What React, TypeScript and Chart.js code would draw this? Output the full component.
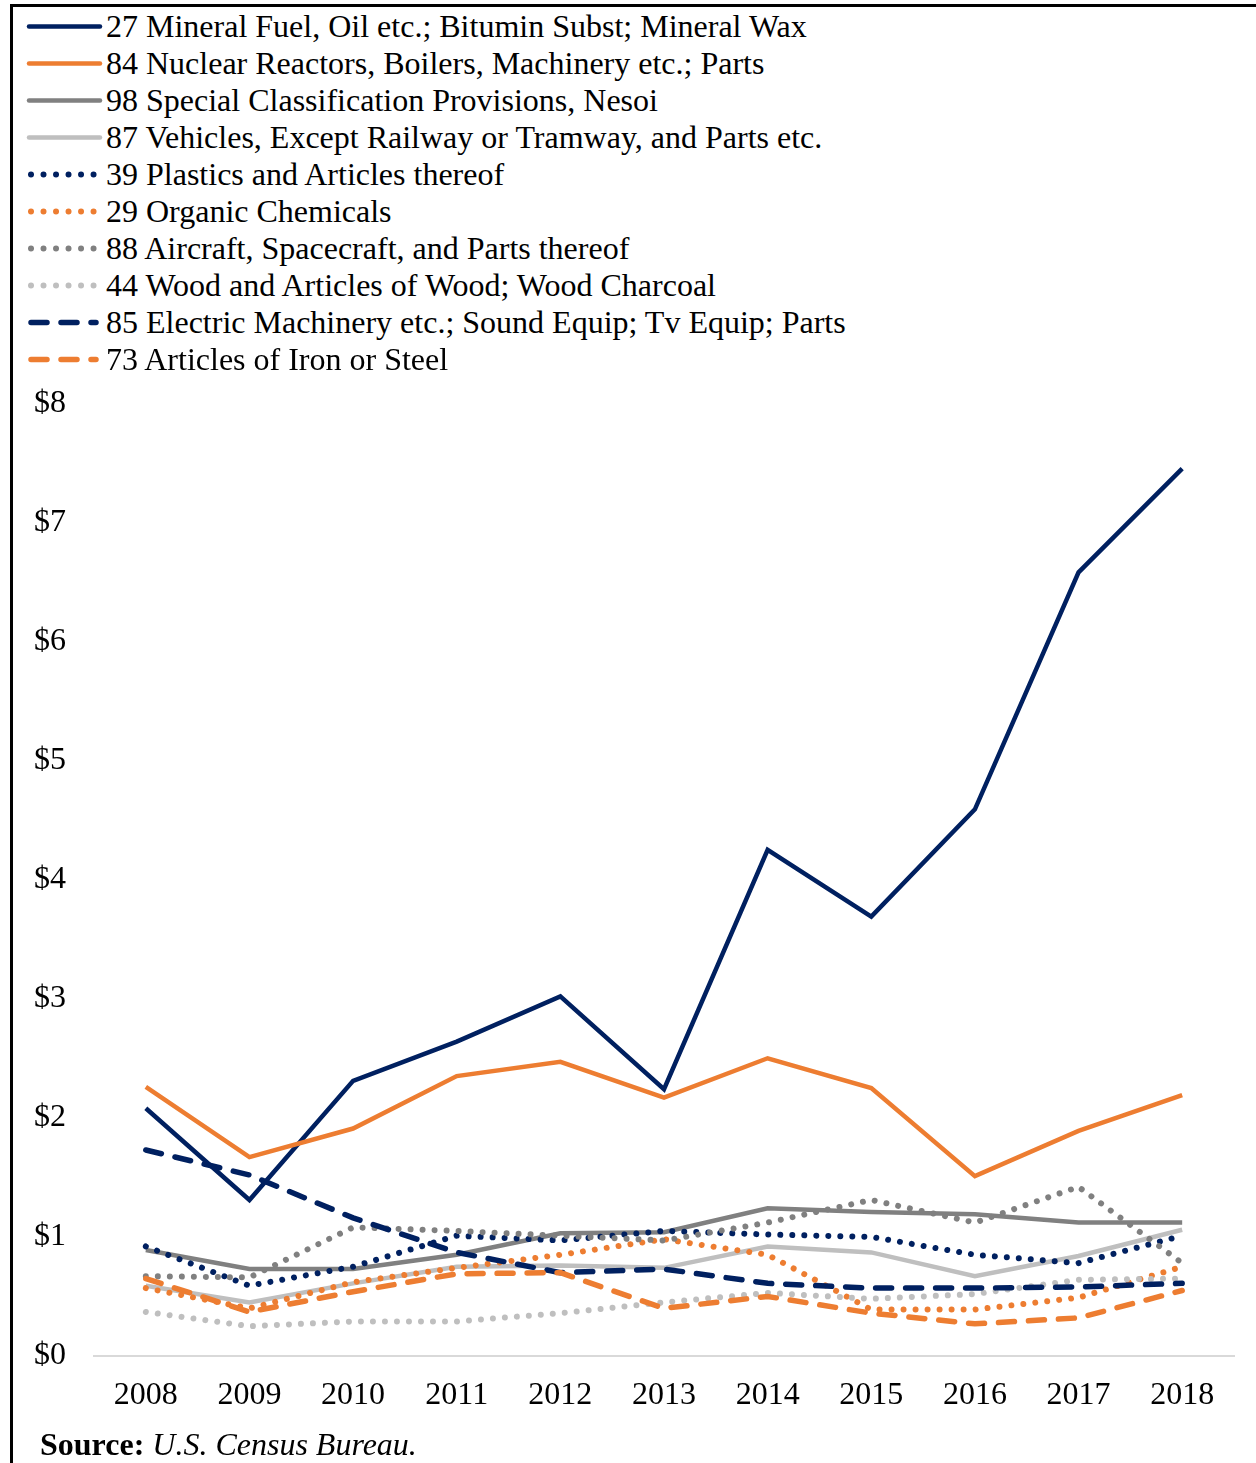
import React, { useEffect, useRef } from "react";
import { Chart, registerables } from "chart.js";

Chart.register(...registerables);

const years = ["2008", "2009", "2010", "2011", "2012", "2013", "2014", "2015", "2016", "2017", "2018"];

const mineralFuel = [2.08, 1.31, 2.31, 2.64, 3.02, 2.24, 4.25, 3.69, 4.59, 6.58, 7.45];
const nuclearReactors = [2.26, 1.67, 1.91, 2.35, 2.47, 2.17, 2.5, 2.25, 1.51, 1.89, 2.19];
const specialClass = [0.89, 0.73, 0.73, 0.85, 1.03, 1.04, 1.24, 1.21, 1.19, 1.12, 1.12];
const vehicles = [0.59, 0.45, 0.61, 0.75, 0.76, 0.74, 0.92, 0.87, 0.67, 0.84, 1.06];
const plastics = [0.92, 0.59, 0.75, 1.01, 0.97, 1.05, 1.02, 1.0, 0.85, 0.78, 1.01];
const organicChem = [0.57, 0.4, 0.62, 0.74, 0.85, 0.98, 0.85, 0.39, 0.39, 0.49, 0.75];
const aircraft = [0.67, 0.66, 1.08, 1.05, 1.01, 0.97, 1.12, 1.31, 1.12, 1.42, 0.78];
const wood = [0.37, 0.25, 0.29, 0.29, 0.36, 0.45, 0.53, 0.48, 0.52, 0.64, 0.65];
const electric = [1.73, 1.52, 1.16, 0.87, 0.7, 0.73, 0.61, 0.57, 0.57, 0.58, 0.61];
const ironSteel = [0.65, 0.37, 0.54, 0.69, 0.7, 0.4, 0.5, 0.36, 0.27, 0.32, 0.55];

const yTicks = [0, 1, 2, 3, 4, 5, 6, 7, 8];

const NAVY = "#002060";
const ORANGE = "#ED7D31";
const DGRAY = "#808080";
const LGRAY = "#BFBFBF";

type Style = "solid" | "dot" | "dash";

const series: { label: string; data: number[]; color: string; style: Style }[] = [
  { label: "27 Mineral Fuel, Oil etc.; Bitumin Subst; Mineral Wax", data: mineralFuel, color: NAVY, style: "solid" },
  { label: "84 Nuclear Reactors, Boilers, Machinery etc.; Parts", data: nuclearReactors, color: ORANGE, style: "solid" },
  { label: "98 Special Classification Provisions, Nesoi", data: specialClass, color: DGRAY, style: "solid" },
  { label: "87 Vehicles, Except Railway or Tramway, and Parts etc.", data: vehicles, color: LGRAY, style: "solid" },
  { label: "39 Plastics and Articles thereof", data: plastics, color: NAVY, style: "dot" },
  { label: "29 Organic Chemicals", data: organicChem, color: ORANGE, style: "dot" },
  { label: "88 Aircraft, Spacecraft, and Parts thereof", data: aircraft, color: DGRAY, style: "dot" },
  { label: "44 Wood and Articles of Wood; Wood Charcoal", data: wood, color: LGRAY, style: "dot" },
  { label: "85 Electric Machinery etc.; Sound Equip; Tv Equip; Parts", data: electric, color: NAVY, style: "dash" },
  { label: "73 Articles of Iron or Steel", data: ironSteel, color: ORANGE, style: "dash" },
];

const FONT = "'Liberation Serif', 'Times New Roman', serif";

function dashFor(style: Style): number[] {
  if (style === "dot") return [0.01, 12];
  if (style === "dash") return [16, 14];
  return [];
}

export default function App() {
  const ref = useRef<HTMLCanvasElement | null>(null);

  useEffect(() => {
    if (!ref.current) return;
    const chart = new Chart(ref.current, {
      type: "line",
      data: {
        labels: years,
        datasets: series.map((s, i) => ({
          label: s.label,
          data: s.data,
          borderColor: s.color,
          backgroundColor: s.color,
          borderWidth: s.style === "solid" ? 4.5 : s.style === "dot" ? 6 : 5.5,
          borderDash: dashFor(s.style),
          borderCapStyle: s.style === "solid" ? "butt" : "round",
          borderJoinStyle: "miter",
          pointRadius: 0,
          tension: 0,
          fill: false,
          order: -i,
        })),
      },
      options: {
        animation: false,
        responsive: false,
        maintainAspectRatio: false,
        layout: { padding: { top: 31, right: 22, left: 0, bottom: 0 } },
        plugins: { legend: { display: false }, tooltip: { enabled: false } },
        scales: {
          x: {
            offset: true,
            grid: { display: false, drawTicks: false },
            border: { display: true, color: "#D9D9D9", width: 2 },
            ticks: { color: "#000", font: { family: FONT, size: 32 }, padding: 20, maxRotation: 0 },
            afterFit: (s: any) => {
              s.height = 84;
            },
          },
          y: {
            min: 0,
            max: 8,
            afterBuildTicks: (s: any) => {
              s.ticks = yTicks.map((v) => ({ value: v }));
            },
            grid: { display: false, drawTicks: false },
            border: { display: false },
            ticks: {
              color: "#000",
              font: { family: FONT, size: 32 },
              padding: 28,
              callback: (v: any) => "$" + v,
            },
            afterFit: (s: any) => {
              s.width = 94;
            },
          },
        },
      },
    });
    return () => chart.destroy();
  }, []);

  return (
    <div
      style={{
        position: "absolute",
        left: 0,
        top: 0,
        width: 1256,
        height: 1463,
        overflow: "hidden",
        background: "#fff",
        fontFamily: FONT,
      }}
    >
      <div
        style={{
          position: "absolute",
          left: 10,
          top: 4,
          width: 1400,
          height: 1600,
          borderLeft: "3px solid #000",
          borderTop: "3px solid #000",
        }}
      />
      <canvas
        ref={ref}
        width={1256}
        height={1084}
        style={{ position: "absolute", left: 0, top: 356, width: 1256, height: 1084 }}
      />
      <div style={{ position: "absolute", left: 0, top: 7.5, zIndex: 2 }}>
        {series.map((s) => (
          <div key={s.label} style={{ position: "relative", height: 37, lineHeight: "37px", whiteSpace: "nowrap" }}>
            <svg width={80} height={37} style={{ position: "absolute", left: 24, top: 0 }}>
              <line
                x1={s.style === "solid" ? 5 : 7}
                y1={18.5}
                x2={s.style === "solid" ? 76 : 72}
                y2={18.5}
                stroke={s.color}
                strokeWidth={s.style === "solid" ? 4.5 : s.style === "dot" ? 6 : 5.5}
                strokeLinecap="round"
                strokeDasharray={s.style === "dot" ? "0.01 12.5" : s.style === "dash" ? "16 14" : undefined}
              />
            </svg>
            <span style={{ position: "absolute", left: 106, top: 0, fontSize: 32, color: "#000" }}>{s.label}</span>
          </div>
        ))}
      </div>
      <div
        style={{
          position: "absolute",
          left: 40,
          top: 1426,
          fontSize: 32,
          lineHeight: "37px",
          color: "#000",
          whiteSpace: "nowrap",
        }}
      >
        <b>Source:</b> <i>U.S. Census Bureau.</i>
      </div>
    </div>
  );
}
